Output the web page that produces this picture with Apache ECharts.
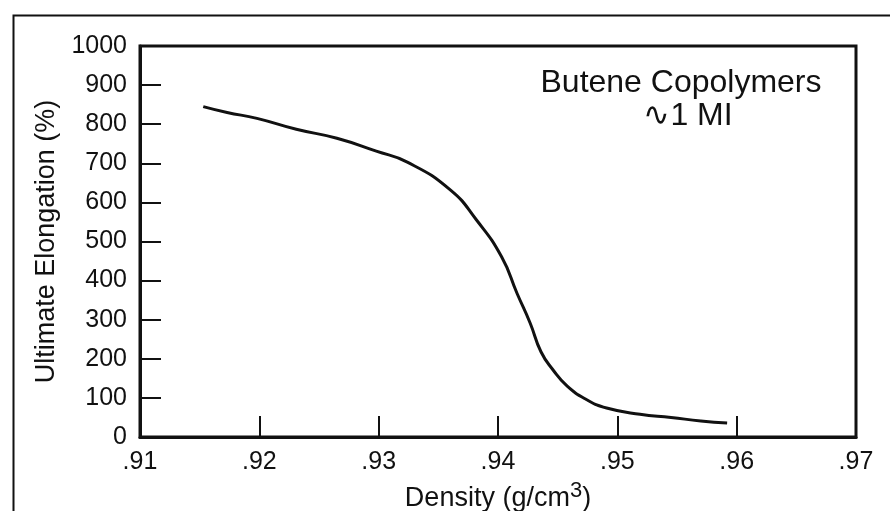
<!DOCTYPE html>
<html>
<head>
<meta charset="utf-8">
<script src="https://cdn.jsdelivr.net/npm/echarts@6/dist/echarts.min.js"></script>
<style>
html,body{margin:0;padding:0;background:#fff;}
#chart{width:890px;height:511px;}
</style>
</head>
<body>
<div id="chart"></div>
<script>
// Density (g/cm3)
const density = [0.9153, 0.9173, 0.9198, 0.9231, 0.9265, 0.9298, 0.9324, 0.9360, 0.9382, 0.9403, 0.9416, 0.9427, 0.9436, 0.9446, 0.9458, 0.9474, 0.9491, 0.9519, 0.9545, 0.9570, 0.9592];
// Ultimate Elongation (%)
const elongation = [845, 830, 815, 787, 764, 731, 703, 632, 555, 461, 367, 291, 218, 172, 130, 96, 74, 58, 50, 41, 36];
const xTicks = [0.91, 0.92, 0.93, 0.94, 0.95, 0.96, 0.97];
const yTicks = [0, 100, 200, 300, 400, 500, 600, 700, 800, 900, 1000];
const annotationLines = ['Butene Copolymers', '\u223F1 MI'];

const FONT = "'Liberation Sans', Arial, Helvetica, sans-serif";
const chart = echarts.init(document.getElementById('chart'), null, {renderer: 'canvas'});
chart.setOption({
  backgroundColor: '#fff',
  animation: false,
  grid: {left: 140, right: 34, top: 46, bottom: 74, show: true, borderColor: '#111', borderWidth: 3,
    containLabel: false, outerBoundsMode: 'none'},
  xAxis: {
    type: 'value', min: xTicks[0], max: xTicks[xTicks.length - 1], interval: 0.01,
    name: 'Density (g/cm{sup|3})', nameLocation: 'middle', nameGap: 37,
    nameTextStyle: {fontFamily: FONT, fontSize: 27, color: '#111',
      rich: {sup: {fontFamily: FONT, fontSize: 22, color: '#111', verticalAlign: 'bottom', padding: [0, 0, 16, 0]}}},
    axisLine: {show: true, lineStyle: {color: '#111', width: 3}},
    axisTick: {show: true, inside: true, length: 21, lineStyle: {color: '#111', width: 2}},
    axisLabel: {fontFamily: FONT, fontSize: 25, color: '#111', margin: 13,
      formatter: v => v.toFixed(2).replace(/^0/, '')},
    splitLine: {show: false}
  },
  yAxis: {
    type: 'value', min: yTicks[0], max: yTicks[yTicks.length - 1], interval: 100,
    name: 'Ultimate Elongation (%)', nameLocation: 'middle', nameGap: 78, nameRotate: 90,
    nameTextStyle: {fontFamily: FONT, fontSize: 27, color: '#111'},
    axisLine: {show: true, lineStyle: {color: '#111', width: 3}},
    axisTick: {show: true, inside: true, length: 21, lineStyle: {color: '#111', width: 2}},
    axisLabel: {fontFamily: FONT, fontSize: 25, color: '#111', margin: 13,
      formatter: v => String(v)},
    splitLine: {show: false}
  },
  series: [{
    type: 'line',
    data: density.map((d, i) => [d, elongation[i]]),
    smooth: 0.5,
    showSymbol: false,
    lineStyle: {color: '#111', width: 3}
  }],
  graphic: [
    {type: 'rect', left: 11, top: 13, shape: {width: 900, height: 520},
     style: {fill: 'none', stroke: '#111', lineWidth: 2}, silent: true},
    {type: 'text', x: 681, y: 83, style: {text: annotationLines[0], font: '32px ' + FONT, fill: '#111', textAlign: 'center', textVerticalAlign: 'middle'}},
    {type: 'text', x: 688, y: 116, style: {text: annotationLines[1], font: '32px ' + FONT, fill: '#111', textAlign: 'center', textVerticalAlign: 'middle'}}
  ]
});
</script>
</body>
</html>
